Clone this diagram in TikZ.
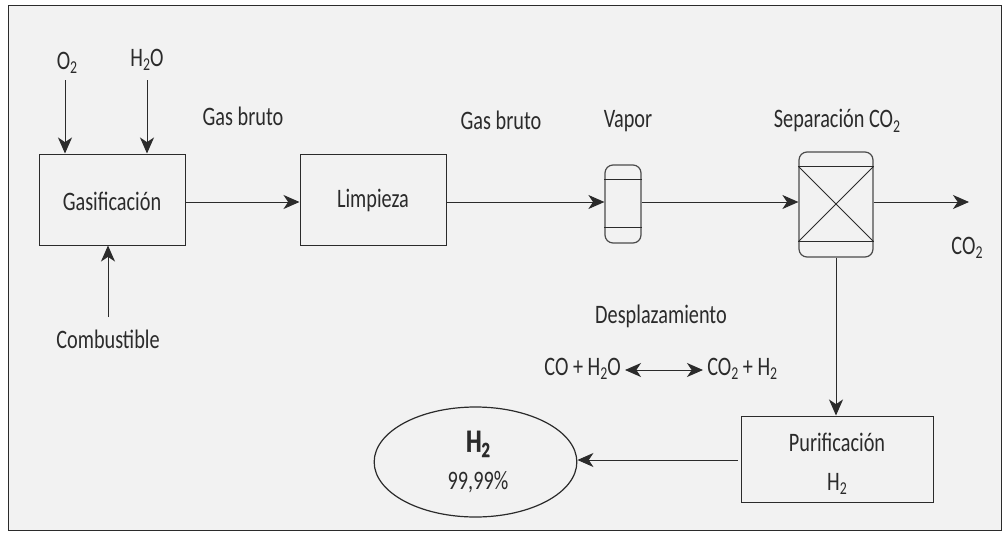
\documentclass[tikz,border=0pt]{standalone}
\usepackage{fontspec}
\setmainfont[FakeStretch=0.76,BoldFeatures={FakeBold=1.2}]{Carlito}
\usetikzlibrary{arrows.meta,shapes.geometric}
\definecolor{panelgray}{HTML}{F2F2F2}
\definecolor{inkgray}{HTML}{2B2B2B}
\newcommand{\lowtwo}{\raisebox{-0.35ex}{\scalebox{0.68}{2}}}

\begin{document}
\begin{tikzpicture}[x=0.75pt,y=-0.75pt,
    tag/.style={inner sep=0pt,text=inkgray,font=\fontsize{20}{22}\selectfont,align=center},
    procbox/.style={draw=inkgray,line width=0.75pt,inner sep=0pt},
    column/.style={draw=inkgray!85,line width=0.9pt,rounded corners=6pt,inner sep=0pt},
    tipend/.tip={Stealth[length=12pt,width=10.5pt,inset=3.5pt]},
    flow/.style={draw=inkgray,line width=0.75pt,-tipend}]
    \useasboundingbox (0,0) rectangle (1003,532);
    \draw[fill=panelgray,draw=inkgray,line width=0.75pt] (8,5) rectangle (1001.5,530.5);

    % Row of units
    \coordinate (flowy) at (0,202);
    \node[procbox,minimum width=109.5pt,minimum height=68.25pt] (gasif) at (112.5,199.5) {};
    \node[procbox,minimum width=109.5pt,minimum height=68.25pt] (limpieza) at (373,199.5) {};
    \node[column,minimum width=27pt,minimum height=58.5pt] (vaporcol) at (623,204) {};
    \node[column,minimum width=55.5pt,minimum height=78.75pt] (sepcol) at (836,204.5) {};
    \node[procbox,minimum width=144pt,minimum height=64.5pt] (purif) at (837,459) {};
    \node[draw=inkgray,line width=0.9pt,ellipse,minimum width=152pt,minimum height=82.5pt,inner sep=0pt] (product) at (475.5,462) {};

    % Box labels
    \node[tag] (gasiftext) at (112,201) {Gasificación};
    \node[tag] (limpiezatext) at (373,200) {Limpieza};
    \node[tag] (purifatext) at (837,442) {Purificación};
    \node[tag] (purifbtext) at (837,484) {H\lowtwo};
    \node[tag,font=\fontsize{24}{26}\selectfont\bfseries] (producta) at (478,444) {H\lowtwo};
    \node[tag] (productb) at (478,482) {99,99\%};

    % Stream labels
    \node[tag] (o2) at (67,63) {O\lowtwo};
    \node[tag] (h2o) at (147,60) {H\lowtwo O};
    \node[tag] (fuel) at (108,339) {Combustible};
    \node[tag] (gasa) at (243,116) {Gas bruto};
    \node[tag] (gasb) at (501,120) {Gas bruto};
    \node[tag] (vapor) at (628,121) {Vapor};
    \node[tag] (septext) at (837,121) {Separación CO\lowtwo};
    \node[tag] (co2) at (967,248) {CO\lowtwo};
    \node[tag] (shift) at (661,316) {Desplazamiento};
    \node[tag,anchor=east] (shiftl) at (621,369) {CO + H\lowtwo O};
    \node[tag,anchor=west] (shiftr) at (707,369) {CO\lowtwo{} + H\lowtwo};

    % Column internals
    \draw[inkgray,line width=0.6pt] ([yshift=-11.25pt]vaporcol.north west) -- ([yshift=-11.25pt]vaporcol.north east);
    \draw[inkgray,line width=0.6pt] ([yshift=12pt]vaporcol.south west) -- ([yshift=12pt]vaporcol.south east);
    \draw[inkgray,line width=0.75pt] ([yshift=-11.25pt]sepcol.north west) coordinate (sepa) -- ([yshift=-11.25pt]sepcol.north east) coordinate (sepb);
    \draw[inkgray,line width=0.75pt] ([yshift=12pt]sepcol.south west) coordinate (sepc) -- ([yshift=12pt]sepcol.south east) coordinate (sepd);
    \draw[inkgray,line width=0.75pt] (sepa) -- (sepd);
    \draw[inkgray,line width=0.75pt] (sepb) -- (sepc);

    % Connectors
    \coordinate (o2in) at (65,80);
    \coordinate (h2oin) at (147,80);
    \coordinate (fuelin) at (108,317);
    \coordinate (co2out) at (969,202);
    \draw[flow] (o2in) -- (o2in |- gasif.north);
    \draw[flow] (h2oin) -- (h2oin |- gasif.north);
    \draw[flow] (fuelin) -- (fuelin |- gasif.south);
    \draw[flow] (gasif.east |- flowy) -- (limpieza.west |- flowy);
    \draw[flow] (limpieza.east |- flowy) -- (vaporcol.west |- flowy);
    \draw[flow] (vaporcol.east |- flowy) -- (sepcol.west |- flowy);
    \draw[flow] (sepcol.east |- flowy) -- (co2out);
    \draw[flow] (sepcol.south) -- (sepcol.south |- purif.north);
    \draw[flow,shorten <=2pt] (purif.west |- 0,460) -- (product.east |- 0,460);
    \draw[flow,tipend-tipend] ([xshift=3pt]shiftl.east |- 0,370) -- ([xshift=-3pt]shiftr.west |- 0,370);
\end{tikzpicture}
\end{document}
